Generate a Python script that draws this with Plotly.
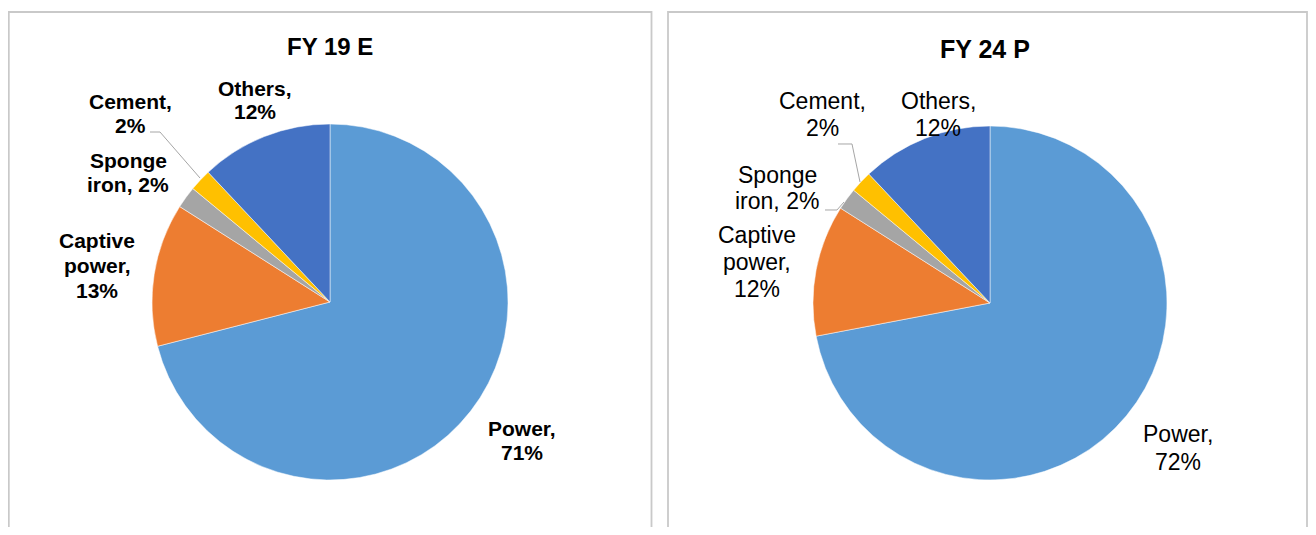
import plotly.graph_objects as go

# page body has an 8px margin; the figure is sized to fit inside it
OFF = 8
W, H = 1316 - 2 * OFF, 535 - 2 * OFF

categories = ["Power", "Captive power", "Sponge iron", "Cement", "Others"]
fy19_values = [71, 13, 2, 2, 12]
fy24_values = [72, 12, 2, 2, 12]
colors = ["#5B9BD5", "#ED7D31", "#A5A5A5", "#FFC000", "#4472C4"]
titles = ["FY 19 E", "FY 24 P"]

fy19_label_lines = {
    0: ["Power,", "71%"],
    1: ["Captive", "power,", "13%"],
    2: ["Sponge", "iron, 2%"],
    3: ["Cement,", "2%"],
    4: ["Others,", "12%"],
}
fy24_label_lines = {
    0: ["Power,", "72%"],
    1: ["Captive", "power,", "12%"],
    2: ["Sponge", "iron, 2%"],
    3: ["Cement,", "2%"],
    4: ["Others,", "12%"],
}

def px(x):
    return (x - OFF) / W

def py(y):
    return 1 - (y - OFF) / H

fig = go.Figure()

pies = [
    dict(vals=fy19_values, cx=330, cy=302, r=178),
    dict(vals=fy24_values, cx=990, cy=303, r=177),
]
for p in pies:
    fig.add_trace(go.Pie(
        labels=categories, values=p["vals"], sort=False, direction="clockwise",
        rotation=0, textinfo="none", hoverinfo="label+percent",
        marker=dict(colors=colors, line=dict(color="white", width=0.5)),
        domain=dict(x=[px(p["cx"] - p["r"]), px(p["cx"] + p["r"])],
                    y=[py(p["cy"] + p["r"]), py(p["cy"] - p["r"])]),
        showlegend=False,
    ))

annotations = []
title_pos = [(330, 46, 24), (985, 49, 25)]
for t, (x, y, s) in zip(titles, title_pos):
    annotations.append(dict(text="<b>%s</b>" % t, x=px(x), y=py(y), xref="paper", yref="paper",
                            xanchor="center", yanchor="middle", showarrow=False,
                            font=dict(family="Liberation Sans, Arial", size=s, color="black")))

fy19_place = {0: (522, 436, 23.5), 1: (97, 248, 25), 2: (128, 168, 24), 3: (130, 109, 24), 4: (255, 96, 22.5)}
fy24_place = {0: (1178, 442, 28), 1: (757, 243, 27), 2: (777, 183, 26.5), 3: (822, 109, 27), 4: (938, 109, 27)}

for lines_map, place, bold, size in [(fy19_label_lines, fy19_place, True, 21),
                                     (fy24_label_lines, fy24_place, False, 23)]:
    for idx, lines in lines_map.items():
        cx, base, sp = place[idx]
        for i, ln in enumerate(lines):
            b = base + i * sp
            ym = b - 0.35 * size
            annotations.append(dict(text=("<b>%s</b>" % ln) if bold else ln,
                                    x=px(cx), y=py(ym), xref="paper", yref="paper",
                                    xanchor="center", yanchor="middle", showarrow=False,
                                    font=dict(family="Liberation Sans, Arial", size=size, color="black")))

shapes = []
for x0, x1 in [(8.8, 651.5), (668, 1307)]:
    shapes.append(dict(type="rect", xref="paper", yref="paper",
                       x0=px(x0), x1=px(x1), y0=py(545), y1=py(12),
                       line=dict(color="#C9C9C9", width=1.8), fillcolor="rgba(0,0,0,0)", layer="below"))

leaders = [
    [(150, 132), (160, 132), (200, 178)],
    [(838, 144), (852, 144), (860, 182)],
    [(825, 210), (837, 210), (844, 202)],
]
for pts in leaders:
    path = "M " + " L ".join("%f,%f" % (px(x), py(y)) for x, y in pts)
    shapes.append(dict(type="path", xref="paper", yref="paper", path=path,
                       line=dict(color="#A6A6A6", width=1)))

fig.update_layout(
    width=W, height=H, margin=dict(l=0, r=0, t=0, b=0),
    paper_bgcolor="white", plot_bgcolor="white",
    annotations=annotations, shapes=shapes,
)

fig.write_html("out.html")
